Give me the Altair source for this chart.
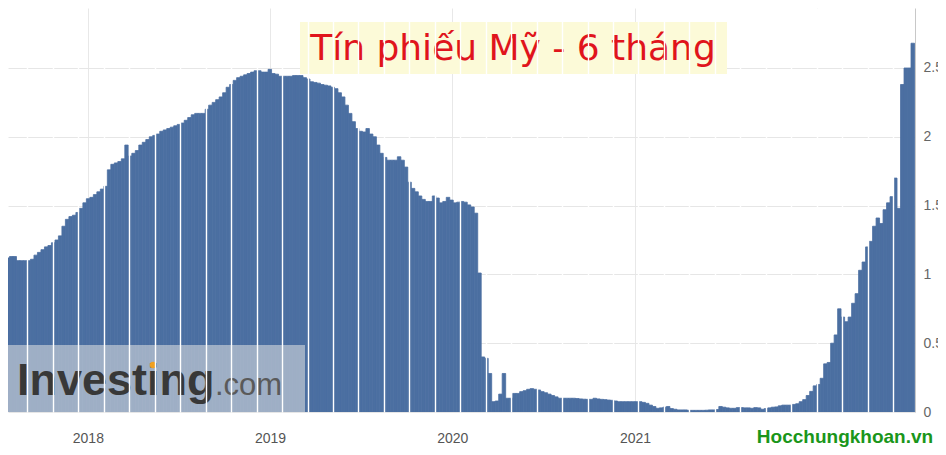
import altair as alt
import pandas as pd

# Weekly 6-month US T-bill yield (%), grouped by year
first_week = "2017-07-14"
rates_2017 = [1.12, 1.12, 1.13, 1.13, 1.10, 1.10, 1.10, 1.10, 1.11, 1.14,
              1.16, 1.18, 1.20, 1.21, 1.23, 1.25, 1.28, 1.35, 1.40, 1.42,
              1.43, 1.45, 1.48, 1.52, 1.55]
rates_2018 = [1.56, 1.58, 1.60, 1.62, 1.64,
              1.76, 1.80, 1.81, 1.82, 1.84, 1.94, 1.86, 1.88, 1.90, 1.94,
              1.96, 1.98, 2.00, 2.01, 2.02, 2.04, 2.05, 2.06, 2.07, 2.08,
              2.09, 2.10, 2.12, 2.14, 2.16, 2.17, 2.17, 2.17, 2.20, 2.23,
              2.25, 2.27, 2.29, 2.32, 2.36, 2.38, 2.41, 2.43, 2.44, 2.45,
              2.46, 2.47, 2.48, 2.48, 2.47, 2.47, 2.49]
rates_2019 = [2.46, 2.455, 2.44,
              2.44, 2.44, 2.44, 2.445, 2.445, 2.445, 2.43, 2.42, 2.40, 2.395,
              2.39, 2.38, 2.375, 2.37, 2.36, 2.35, 2.32, 2.29, 2.23, 2.17,
              2.11, 2.06, 2.04, 2.035, 2.06, 2.02, 2.00, 1.94, 1.88, 1.85,
              1.83, 1.83, 1.83, 1.855, 1.83, 1.78, 1.67, 1.625, 1.60, 1.57,
              1.545, 1.53, 1.53, 1.57, 1.555, 1.52, 1.53, 1.56, 1.54]
rates_2020 = [1.52,
              1.525, 1.53, 1.525, 1.505, 1.49, 1.445, 1.01, 0.40, 0.39, 0.28,
              0.075, 0.08, 0.13, 0.28, 0.10, 0.10, 0.135, 0.135, 0.148, 0.155,
              0.165, 0.17, 0.165, 0.16, 0.148, 0.14, 0.13, 0.12, 0.11, 0.10,
              0.10, 0.10, 0.10, 0.10, 0.098, 0.095, 0.093, 0.092, 0.092, 0.10,
              0.095, 0.092, 0.09, 0.087, 0.085, 0.08, 0.075, 0.075, 0.075, 0.075,
              0.075]
rates_2021 = [0.075, 0.075, 0.07, 0.063, 0.05, 0.04, 0.027, 0.03, 0.035,
              0.04, 0.025, 0.02, 0.015, 0.015, 0.015, 0.012, 0.012, 0.012, 0.012,
              0.012, 0.013, 0.015, 0.015, 0.018, 0.04, 0.035, 0.03, 0.027, 0.027,
              0.032, 0.032, 0.03, 0.03, 0.027, 0.032, 0.03, 0.02, 0.025, 0.03,
              0.035, 0.037, 0.045, 0.05, 0.05, 0.05, 0.055, 0.06, 0.075, 0.09,
              0.12, 0.15, 0.19, 0.20]
rates_2022 = [0.245, 0.35, 0.36, 0.50, 0.56, 0.75,
              0.69, 0.656, 0.69, 0.79, 0.86, 1.03, 1.09, 1.20, 1.24, 1.35,
              1.41, 1.37, 1.47, 1.52, 1.565, 1.70, 1.48, 2.38, 2.50, 2.50,
              2.68]

year_labels = [2018, 2019, 2020, 2021, 2022]
y_ticks = [0, 0.5, 1, 1.5, 2, 2.5]
title_text = "Tín phiếu Mỹ - 6 tháng"
watermark_main = "Investing"
watermark_tail = ".com"
site_text = "Hocchungkhoan.vn"

rates = rates_2017 + rates_2018 + rates_2019 + rates_2020 + rates_2021 + rates_2022
weeks = pd.date_range(first_week, periods=len(rates), freq="7D")
df = pd.DataFrame({"start": weeks, "end": weeks + pd.Timedelta(days=7), "rate": rates})

BLUE = "#4b6fa1"
x_scale = alt.Scale(domain=[alt.DateTime(year=2017, month=7, date=25),
                            alt.DateTime(year=2022, month=7, date=16)])
y_scale = alt.Scale(domain=[0, 2.936], nice=False, zero=True)

year_vals = [alt.DateTime(year=y, month=1, date=1) for y in year_labels]
# thin white separators seen across the bars in the reference rendering
sep_dates = pd.date_range("2017-09-02", periods=35, freq="51D")
sep_vals = [alt.DateTime(year=d.year, month=d.month, date=d.day) for d in sep_dates]

bars = alt.Chart(df).mark_rect(color=BLUE, stroke=BLUE, strokeWidth=0.8, clip=True).encode(
    x=alt.X("start:T", scale=x_scale, title=None,
            axis=alt.Axis(values=year_vals, format="%Y", grid=True, gridColor="#e8e8e8",
                          ticks=False, domain=False, labelPadding=19, labelFontSize=14,
                          labelColor="#555555", labelFont="Liberation Sans")),
    x2="end:T",
    y=alt.Y("rate:Q", scale=y_scale, title=None,
            axis=alt.Axis(orient="right", values=y_ticks, format="~g", grid=True,
                          gridColor="#e6e6e6", ticks=False, domain=True,
                          domainColor="#c8c8c8", labelPadding=8, labelFontSize=14,
                          labelColor="#666666", labelFont="Liberation Sans")),
    y2=alt.datum(0),
)

separators = alt.Chart(df).mark_point(opacity=0).encode(
    x=alt.X("start:T", scale=x_scale, title=None,
            axis=alt.Axis(orient="top", values=sep_vals, grid=True, gridColor="white",
                          gridWidth=1.4, gridOpacity=1, zindex=1, labels=False,
                          ticks=False, domain=False)),
    y=alt.value(0),
)

one = pd.DataFrame({"k": [0]})

wm_box = alt.Chart(one).mark_rect(color="#e4e4e4", opacity=0.55).encode(
    x=alt.value(0), x2=alt.value(297), y=alt.value(337), y2=alt.value(404))
wm_text = alt.Chart(one).mark_text(text=watermark_main, font="Liberation Sans",
                                   fontWeight="bold", fontSize=45, color="#383838",
                                   align="left", baseline="alphabetic").encode(
    x=alt.value(9), y=alt.value(387))
wm_dot = alt.Chart(one).mark_point(filled=True, color="#f0a020", size=40, opacity=1).encode(
    x=alt.value(145), y=alt.value(357))
wm_tail = alt.Chart(one).mark_text(text=watermark_tail, font="Liberation Sans",
                                   fontSize=31, color="#5a5a5a",
                                   align="left", baseline="alphabetic").encode(
    x=alt.value(207), y=alt.value(387))

title_box = alt.Chart(one).mark_rect(color="#fcfad8").encode(
    x=alt.value(292), x2=alt.value(719), y=alt.value(14), y2=alt.value(66))
title_mark = alt.Chart(one).mark_text(text=title_text, font="DejaVu Sans", fontSize=36,
                                      color="#e0141c", align="center",
                                      baseline="middle").encode(
    x=alt.value(505), y=alt.value(41))

site_box = alt.Chart(one).mark_rect(color="white").encode(
    x=alt.value(745), x2=alt.value(912), y=alt.value(419), y2=alt.value(436))
site_mark = alt.Chart(one).mark_text(text=site_text, font="Liberation Sans",
                                     fontWeight="bold", fontSize=19, color="#1a961a",
                                     align="center", baseline="middle").encode(
    x=alt.value(837), y=alt.value(429))

chart = alt.layer(
    bars, separators, wm_box, wm_text, wm_dot, wm_tail, title_box, title_mark,
    site_box, site_mark
).resolve_axis(x="independent").properties(
    width=907, height=404,
    autosize=alt.AutoSizeParams(type="none"),
    padding={"left": 0, "top": 0, "right": 23, "bottom": 35},
    background="white",
).configure_view(stroke=None)

chart.save("out.html", embed_options={"renderer": "svg", "actions": False})
